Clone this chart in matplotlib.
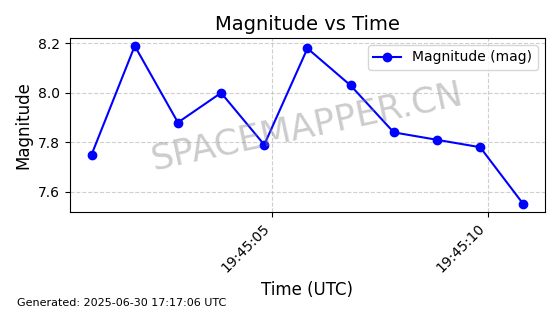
import matplotlib
matplotlib.use("Agg")
import matplotlib.pyplot as plt
import matplotlib.dates as mdates
import pandas as pd

# readings, one per second
times = pd.date_range("2025-06-30 19:45:00.82", periods=11, freq="1s")
magnitudes = [7.75, 8.19, 7.88, 8.00, 7.79, 8.18, 8.03, 7.84, 7.81, 7.78, 7.55]
yticks = [7.6, 7.8, 8.0, 8.2]

fig, ax = plt.subplots(figsize=(5.6, 3.14), dpi=100)
fig.subplots_adjust(left=0.125, right=0.973, top=0.879, bottom=0.325)

ax.plot(times, magnitudes, "o-", color="blue", markersize=6, linewidth=1.5, label="Magnitude (mag)")
ax.set_title("Magnitude vs Time", fontsize=14)
ax.set_xlabel("Time (UTC)", fontsize=12)
ax.set_ylabel("Magnitude", fontsize=12)
ax.set_yticks(yticks)
ax.xaxis.set_major_locator(mdates.SecondLocator(bysecond=range(0, 60, 5)))
ax.xaxis.set_major_formatter(mdates.DateFormatter("%H:%M:%S"))
plt.setp(ax.get_xticklabels(), rotation=45, ha="right")
ax.grid(True, linestyle="--", alpha=0.6)
ax.legend(loc="upper right")

ax.text(0.5, 0.49, "SPACEMAPPER.CN", transform=ax.transAxes, fontsize=25.5,
        color="gray", alpha=0.4, rotation=12, ha="center", va="center")
fig.text(0.03, 0.025, "Generated: 2025-06-30 17:17:06 UTC", fontsize=8)

plt.savefig("out.png", dpi=100)
